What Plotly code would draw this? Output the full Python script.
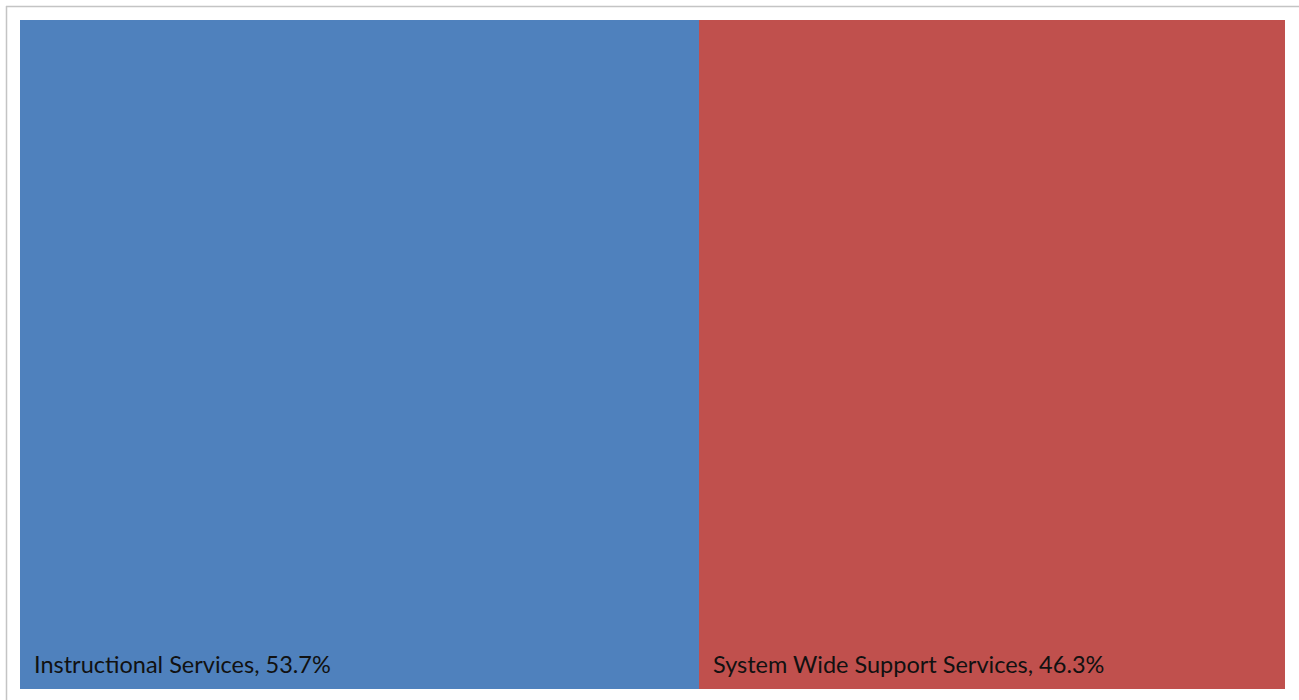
import plotly.graph_objects as go

# Budget share by service area
categories = ["Instructional Services", "System Wide Support Services"]
shares = [53.7, 46.3]
colors = ["#4F81BD", "#C0504D"]

W, H = 1299, 700
margin = dict(l=20, r=14, t=20, b=11)
pw = W - margin["l"] - margin["r"]
ph = H - margin["t"] - margin["b"]

fig = go.Figure()
for name, val, col in zip(categories, shares, colors):
    fig.add_trace(go.Bar(
        x=[val], y=["all"], orientation="h", name=name,
        marker=dict(color=col, line=dict(width=0)),
        width=1, hoverinfo="name+x",
    ))


def px_x(p):
    return (p - margin["l"]) / pw


def px_y(p):
    return (H - margin["b"] - p) / ph


# Labels anchored at the left edge of each block, near the bottom
start = 0.0
for name, val in zip(categories, shares):
    fig.add_annotation(
        x=start, xref="x", y=px_y(664), yref="paper",
        text=f"{name}, {val}%", showarrow=False,
        xanchor="left", yanchor="middle", xshift=12,
        font=dict(family="Lato", size=23.5, color="#111111"),
    )
    start += val

# Thin frame lines around the chart area
fig.add_shape(type="line", xref="paper", yref="paper",
              x0=px_x(6), x1=px_x(W + 2), y0=px_y(6.5), y1=px_y(6.5),
              line=dict(color="#c4c4c4", width=1.5))
fig.add_shape(type="line", xref="paper", yref="paper",
              x0=px_x(6.5), x1=px_x(6.5), y0=px_y(6), y1=px_y(H + 2),
              line=dict(color="#c4c4c4", width=1.5))

fig.update_layout(
    width=W, height=H, margin=margin,
    barmode="stack", showlegend=False, bargap=0,
    paper_bgcolor="white", plot_bgcolor="white",
    xaxis=dict(range=[0, sum(shares)], visible=False, fixedrange=True),
    yaxis=dict(range=[-0.5, 0.5], visible=False, fixedrange=True),
)

fig.write_html("out.html", config={"displayModeBar": False})
